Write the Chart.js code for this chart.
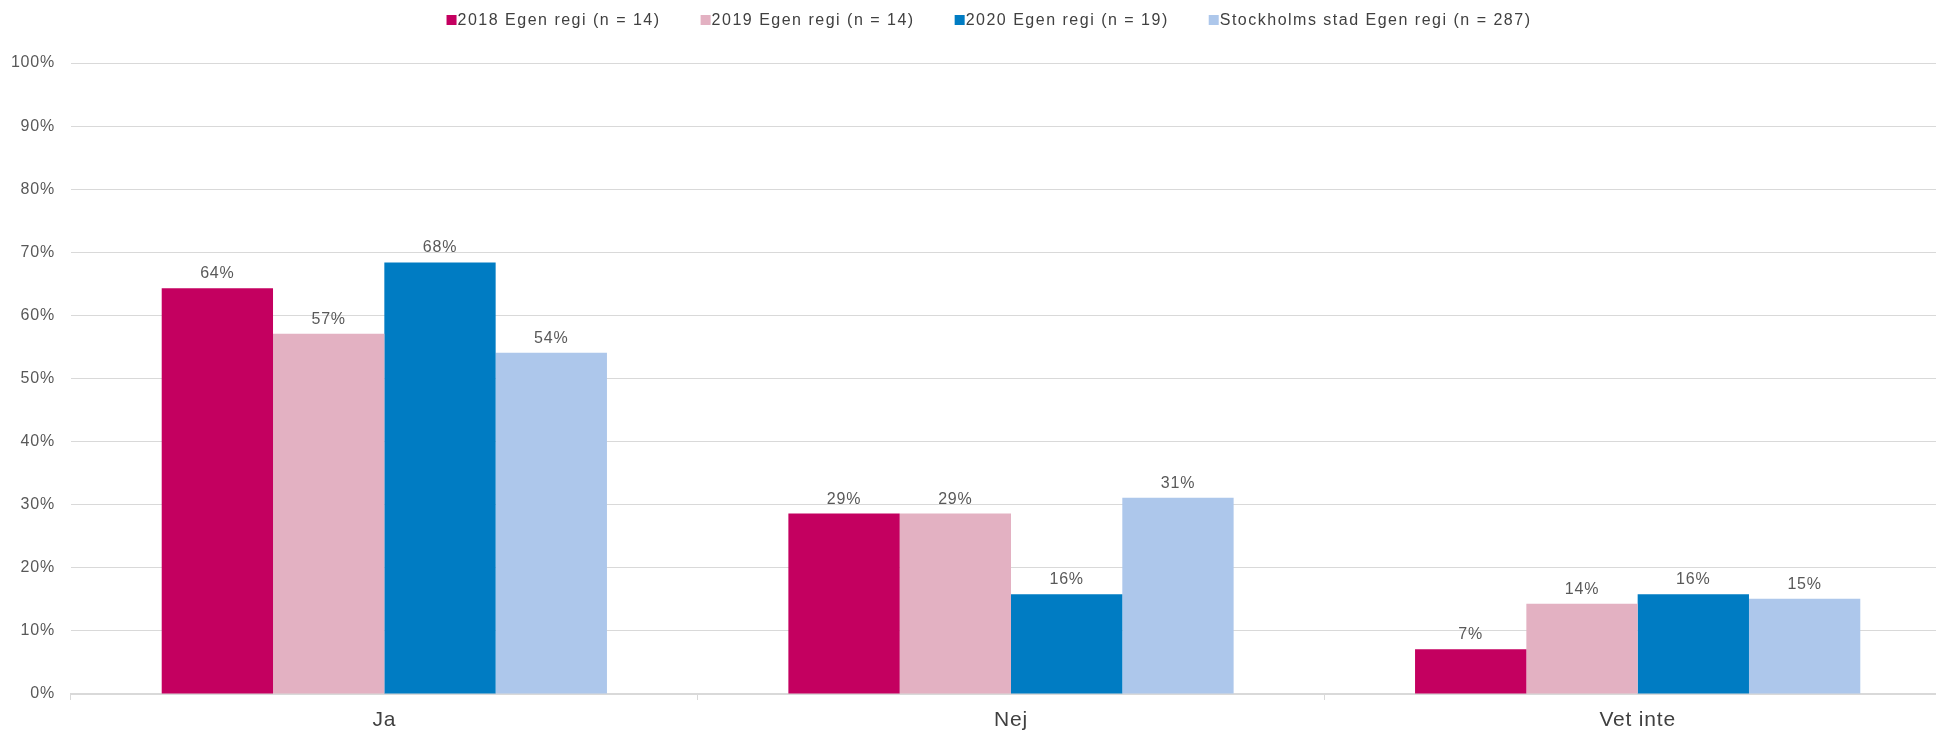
<!DOCTYPE html>
<html>
<head>
<meta charset="utf-8">
<script src="https://cdn.jsdelivr.net/npm/chart.js@4/dist/chart.umd.min.js"></script>
<style>
  body { margin: 0; overflow: hidden; background: #fff; }
  #wrap { position: absolute; left: 0; top: 0; width: 1952px; height: 731px; }
</style>
</head>
<body>
<div id="wrap"><canvas id="chart"></canvas></div>
<script>
const categories = ["Ja", "Nej", "Vet inte"];
const seriesNames = ["2018 Egen regi (n = 14)", "2019 Egen regi (n = 14)", "2020 Egen regi (n = 19)", "Stockholms stad Egen regi (n = 287)"];
const values2018 = [64.3, 28.6, 7.1];
const values2019 = [57.1, 28.6, 14.3];
const values2020 = [68.4, 15.8, 15.8];
const valuesStockholm = [54.1, 31.1, 15.1];
const seriesColors = ["#C40060", "#E3B1C2", "#007CC3", "#ADC7EB"];
const yTicks = [0, 10, 20, 30, 40, 50, 60, 70, 80, 90, 100];

const textColor = "#595959";
const fontFamily = "'Liberation Sans', Arial, sans-serif";
const spacing = "0.8px";

// Excel-style wide text: canvas letter spacing, re-set after every resize
const spacingPlugin = {
  id: "spacing",
  beforeLayout(chart) { chart.ctx.letterSpacing = spacing; },
  beforeDraw(chart) { chart.ctx.letterSpacing = spacing; }
};

// value labels above each bar
const valueLabels = {
  id: "valueLabels",
  afterDatasetsDraw(chart) {
    const ctx = chart.ctx;
    ctx.save();
    ctx.letterSpacing = spacing;
    ctx.font = "16px " + fontFamily;
    ctx.fillStyle = textColor;
    ctx.textAlign = "center";
    ctx.textBaseline = "alphabetic";
    chart.data.datasets.forEach((ds, i) => {
      chart.getDatasetMeta(i).data.forEach((bar, j) => {
        ctx.fillText(Math.round(ds.data[j]) + "%", bar.x, bar.y - 10);
      });
    });
    ctx.restore();
  }
};

// legend the Excel way: square right against the text, wide gaps between items
const topLegend = {
  id: "topLegend",
  afterDraw(chart) {
    const ctx = chart.ctx;
    ctx.save();
    ctx.letterSpacing = "1.5px";
    ctx.font = "16px " + fontFamily;
    ctx.textBaseline = "middle";
    ctx.textAlign = "left";
    const gap = 40, box = 10;
    const widths = seriesNames.map(n => ctx.measureText(n).width);
    const total = widths.reduce((a, w) => a + box + 1 + w, 0) + gap * (seriesNames.length - 1);
    let x = 989 - total / 2;
    const y = 20;
    seriesNames.forEach((n, i) => {
      ctx.fillStyle = seriesColors[i];
      ctx.fillRect(x, y - box / 2, box, box);
      ctx.fillStyle = "#404040";
      ctx.fillText(n, x + box + 1, y + 1);
      x += box + 1 + widths[i] + gap;
    });
    ctx.restore();
  }
};

const allValues = [values2018, values2019, values2020, valuesStockholm];

new Chart("chart", {
  type: "bar",
  data: {
    labels: categories,
    datasets: seriesNames.map((name, i) => ({
      label: name,
      data: allValues[i],
      backgroundColor: seriesColors[i],
      borderWidth: 0,
      categoryPercentage: 0.7105,
      barPercentage: 1
    }))
  },
  options: {
    responsive: true,
    maintainAspectRatio: false,
    animation: false,
    layout: { padding: { top: 63, right: 1, left: 0, bottom: 0 } },
    plugins: {
      legend: { display: false },
      tooltip: { enabled: false }
    },
    scales: {
      x: {
        grid: {
          offset: true,
          drawOnChartArea: false,
          drawTicks: true,
          tickLength: 6,
          color: "#d9d9d9"
        },
        border: { display: true, color: "#d9d9d9", width: 2 },
        ticks: {
          color: "#404040",
          padding: 8,
          font: { size: 21, family: fontFamily }
        },
        afterFit(scale) { scale.height = 37; }
      },
      y: {
        min: 0,
        max: 100,
        afterBuildTicks(scale) { scale.ticks = yTicks.map(v => ({ value: v })); },
        grid: { color: "#d9d9d9", lineWidth: 1, drawTicks: false },
        border: { display: false },
        ticks: {
          color: textColor,
          padding: 16,
          font: { size: 16, family: fontFamily },
          callback: v => v + "%"
        },
        afterFit(scale) { scale.width = 71; }
      }
    }
  },
  plugins: [spacingPlugin, valueLabels, topLegend]
});
</script>
</body>
</html>
